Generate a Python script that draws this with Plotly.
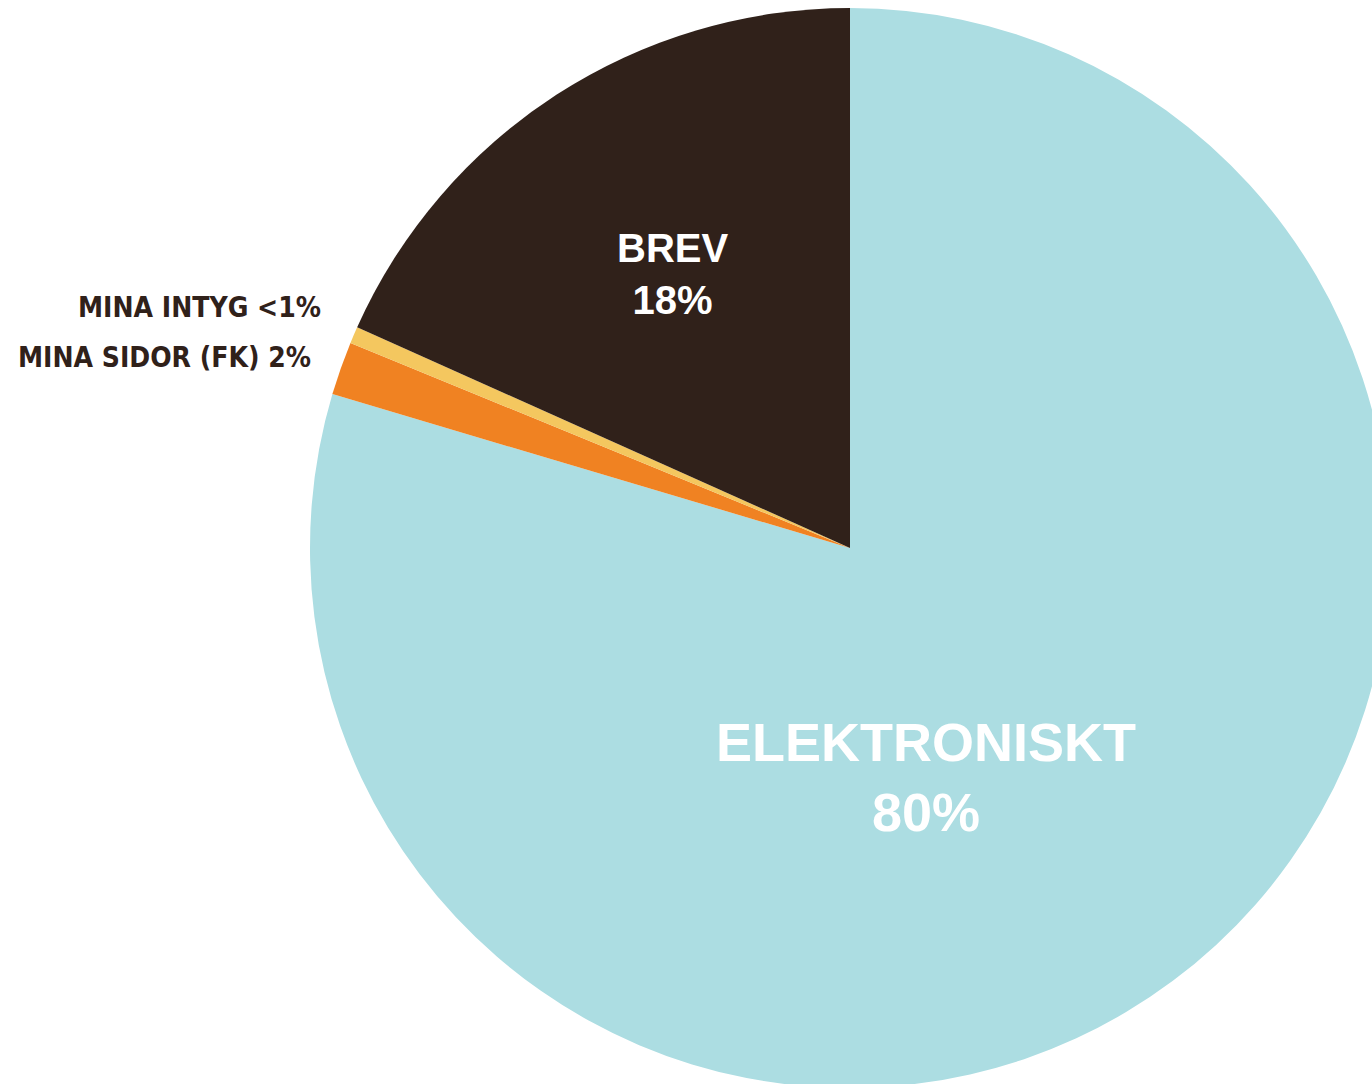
import plotly.graph_objects as go

labels = ["ELEKTRONISKT", "MINA SIDOR (FK)", "MINA INTYG", "BREV"]
values = [79.6, 1.6, 0.5, 18.3]
pct_text = ["80%", "2%", "<1%", "18%"]
colors = ["#ACDDE2", "#F08222", "#F4C75F", "#30211A"]

W, H = 1390, 1088

fig = go.Figure(go.Pie(
    labels=labels, values=values, sort=False, direction="clockwise", rotation=0,
    marker=dict(colors=colors, line=dict(width=0)),
    textinfo="none", hoverinfo="label+percent", showlegend=False,
    domain=dict(x=[310 / W, 1.0], y=[0.0, 1080 / H]),
))

# label placement (pixel positions from top-left)
inside_pos = {0: (926, 777, 54), 3: (672, 274, 40)}
outside_pos = {2: (323, 307), 1: (313, 357)}

ann = []
for i, (x, y, s) in inside_pos.items():
    ann.append(dict(x=x / W, y=1 - y / H, xref="paper", yref="paper",
                    text=f"{labels[i]}<br>{pct_text[i]}", showarrow=False,
                    xanchor="center", yanchor="middle", align="center",
                    font=dict(family="Liberation Sans, Arial, sans-serif", size=s,
                              color="white", weight="bold")))
for i, (x, y) in outside_pos.items():
    ann.append(dict(x=x / W, y=1 - y / H, xref="paper", yref="paper",
                    text=f"{labels[i]} {pct_text[i]}", showarrow=False,
                    xanchor="right", yanchor="middle", align="right",
                    font=dict(family="Liberation Sans Narrow, DejaVu Sans Condensed, sans-serif",
                              size=28, color="#30211A", weight="bold")))

fig.update_layout(width=W, height=H, margin=dict(l=0, r=0, t=0, b=0),
                  paper_bgcolor="white", plot_bgcolor="white", annotations=ann)

fig.write_html("out.html", config={"displayModeBar": False},
               post_script="document.body.style.margin='0';document.body.style.overflow='hidden';document.documentElement.style.overflow='hidden';")
